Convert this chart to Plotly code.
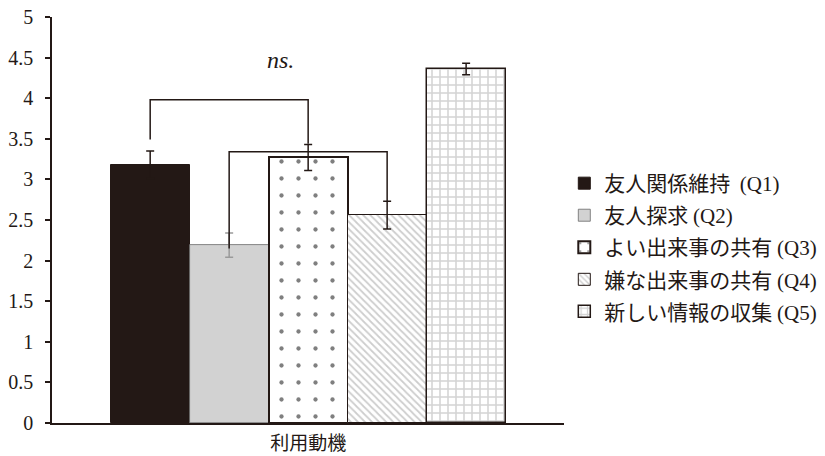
import plotly.graph_objects as go

categories = ["友人関係維持  (Q1)", "友人探求 (Q2)", "よい出来事の共有 (Q3)", "嫌な出来事の共有 (Q4)", "新しい情報の収集 (Q5)"]
means = [3.18, 2.19, 3.27, 2.56, 4.36]
errors = [0.17, 0.15, 0.16, 0.17, 0.07]
x_label = "利用動機"
y_ticks = [0, 0.5, 1, 1.5, 2, 2.5, 3, 3.5, 4, 4.5, 5]

# significance brackets: (left bar, right bar, top level, left end, right end)
bracket_left = [0, 1]
bracket_right = [2, 3]
bracket_top = [3.98, 3.34]
bracket_left_end = [3.49, 2.15]
bracket_right_end = [3.44, 2.73]
sig_text = "ns."

DARK = "#231815"
SERIF = "Times New Roman"
JP = "Noto Sans CJK JP"

styles = [
    dict(color=DARK, line=dict(color=DARK, width=1)),
    dict(color="#d2d2d2", line=dict(color="#6a6a6a", width=0.8)),
    dict(color="white", line=dict(color=DARK, width=2),
         pattern=dict(shape=".", fgcolor="#000000", bgcolor="white", size=17, solidity=0.05)),
    dict(color="white", line=dict(color=DARK, width=1),
         pattern=dict(shape="\\", fgcolor="#9c9c9c", bgcolor="white", size=5, solidity=0.35)),
    dict(color="white", line=dict(color=DARK, width=1.5),
         pattern=dict(shape="+", fgcolor="#a8a8a8", bgcolor="white", size=8, solidity=0.35)),
]
err_colors = [DARK, "#9a9a9a", DARK, DARK, DARK]


def legend_name(s):
    i = s.index("(")
    jp = s[:i]
    en = s[i:]
    return f'<span style="font-family:{JP}">{jp}</span><span style="font-family:{SERIF}">{en}</span>'


fig = go.Figure()
for i, (c, m, e) in enumerate(zip(categories, means, errors)):
    fig.add_trace(go.Bar(
        x=[i], y=[m], width=1, name=legend_name(c), legendgroup=f"g{i}",
        marker=styles[i],
        error_y=dict(type="data", array=[e], visible=True, color=err_colors[i],
                     thickness=1.5, width=4),
    ))

for l, r, t, le, re in zip(bracket_left, bracket_right, bracket_top, bracket_left_end, bracket_right_end):
    fig.add_trace(go.Scatter(
        x=[l, l, r, r], y=[le, t, t, re], mode="lines",
        line=dict(color=DARK, width=1.5), showlegend=False, hoverinfo="skip",
    ))

fig.add_annotation(x=1.65, y=4.47, text=f"<i>{sig_text}</i>", showarrow=False,
                   font=dict(family=SERIF, size=24, color=DARK))

fig.update_layout(
    width=825, height=456,
    margin=dict(l=52, r=258, t=17, b=33),
    paper_bgcolor="white", plot_bgcolor="white",
    bargap=0,
    showlegend=True,
    legend=dict(xref="container", yref="container", x=0.684, y=0.6425,
                xanchor="left", yanchor="top",
                font=dict(family=JP, size=21, color=DARK), tracegroupgap=1.75,
                itemwidth=30, bgcolor="rgba(0,0,0,0)"),
    xaxis=dict(range=[-1.243, 5.243], tickvals=[2], ticktext=[x_label],
               showline=True, linecolor=DARK, linewidth=1.5, ticks="",
               showgrid=False, zeroline=False, automargin=False,
               ticklabelstandoff=2,
               tickfont=dict(family=JP, size=19, color=DARK)),
    yaxis=dict(range=[0, 5], tickvals=y_ticks, ticktext=[f"{v:g}" for v in y_ticks],
               showline=True, linecolor=DARK, linewidth=1.5, ticks="outside",
               ticklen=5, tickcolor=DARK, tickwidth=1.5, showgrid=False, zeroline=False,
               automargin=False, ticklabelstandoff=8,
               tickfont=dict(family=SERIF, size=20, color=DARK)),
)

fig.write_html("out.html")
